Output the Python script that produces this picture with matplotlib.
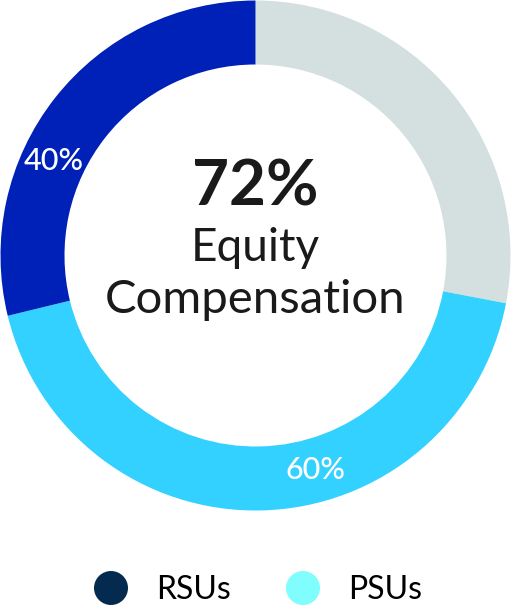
import matplotlib.pyplot as plt
import numpy as np

plt.rcParams['font.family'] = ['Lato', 'DejaVu Sans']

# data
equity_pct = 72
split_labels = ["RSUs", "PSUs"]
split_pct = [40, 60]
ring_colors = ["#d4dfe0", "#33d1ff", "#0021b7"]
legend_colors = ["#042a4f", "#80fdfd"]

rsu, psu = split_pct
sizes = [100 - equity_pct, equity_pct * psu / 100, equity_pct * rsu / 100]

W, H = 511, 615
fig = plt.figure(figsize=(W / 100, H / 100), dpi=100)
ax = fig.add_axes([0, 0, 1, 1])

cx, cy = 255.5, H - 255.5
R = 255
ring_w = 64
ax.pie(sizes, colors=ring_colors, startangle=90, counterclock=False,
       radius=R, center=(cx, cy), wedgeprops=dict(width=ring_w, linewidth=0))

ax.set_xlim(0, W)
ax.set_ylim(0, H)
ax.set_aspect('equal')
ax.axis('off')

# segment labels
rm = R - ring_w / 2
lab_ang = {"RSUs": 155, "PSUs": -74.5}
for name, pct in zip(split_labels, split_pct):
    a = np.radians(lab_ang[name])
    ax.text(cx + rm * np.cos(a), cy + rm * np.sin(a), f"{pct}%", color="white",
            fontsize=22, fontweight="medium", ha="center", va="center")

# center text
ax.text(cx, H - 187, f"{equity_pct}%", fontsize=46, fontweight="bold",
        color="#1a1a1a", ha="center", va="center")
ax.text(cx, H - 248, "Equity", fontsize=33, color="#1a1a1a",
        ha="center", va="center")
ax.text(cx, H - 300, "Compensation", fontsize=34, color="#1a1a1a",
        ha="center", va="center")

# legend
leg_x = [111, 303]
for x, name, c in zip(leg_x, split_labels, legend_colors):
    ax.add_patch(plt.Circle((x, H - 588), 17, color=c, lw=0))
    ax.text(x + 45, H - 590, name, fontsize=23, color="black",
            ha="left", va="center")

fig.savefig("out.png", dpi=100)
